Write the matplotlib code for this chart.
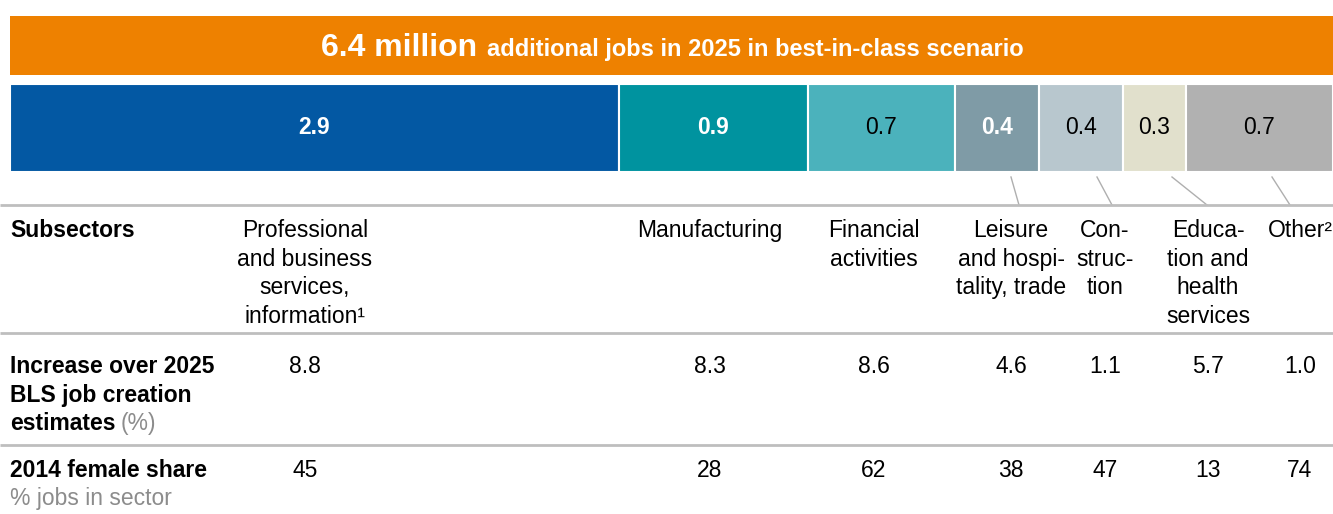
import matplotlib.pyplot as plt
from matplotlib.patches import Rectangle

plt.rcParams['font.family'] = ['Liberation Sans', 'DejaVu Sans']

W, H = 1333, 514

# additional jobs by sector, millions
sectors = ['Professional\nand business\nservices,\ninformation\u00b9', 'Manufacturing',
           'Financial\nactivities', 'Leisure\nand hospi-\ntality, trade', 'Con-\nstruc-\ntion',
           'Educa-\ntion and\nhealth\nservices', 'Other\u00b2']
jobs = [2.9, 0.9, 0.7, 0.4, 0.4, 0.3, 0.7]
total_label = '6.4 million'
increase = ['8.8', '8.3', '8.6', '4.6', '1.1', '5.7', '1.0']
female = ['45', '28', '62', '38', '47', '13', '74']

colors = ['#0358A3', '#00939F', '#4BB2BC', '#7F9BA6', '#B8C7CE', '#E1E0CC', '#B1B1B1']
label_colors = ['white', 'white', 'black', 'white', 'black', 'black', 'black']
label_weights = ['bold', 'bold', 'normal', 'bold', 'normal', 'normal', 'normal']

col_x = [305, 710, 874, 1011, 1105, 1208, 1300]

fs = 16.5
step = 28.7
grey = '#8C8C8C'

fig = plt.figure(figsize=(W / 100, H / 100), dpi=100)
renderer = fig.canvas.get_renderer()

# overlay in pixel coordinates for banner and table
ax0 = fig.add_axes([0, 0, 1, 1])
ax0.set_xlim(0, W)
ax0.set_ylim(H, 0)
ax0.axis('off')


def lines(x, y0, s, **kw):
    for i, ln in enumerate(s.split('\n')):
        t = ax0.text(x, y0 + i * step, ln, fontsize=kw.pop('fontsize', fs), va='baseline', **kw)
    return t


def right_of(t):
    bb = t.get_window_extent(renderer).transformed(ax0.transData.inverted())
    return max(bb.x0, bb.x1)


# banner
ax0.add_patch(Rectangle((10, 16), W - 10, 59, color='#EE8100', lw=0))
t1 = ax0.text(0, 56, total_label, color='white', fontsize=23, fontweight='bold',
              ha='left', va='baseline')
t2 = ax0.text(0, 56, 'additional jobs in 2025 in best-in-class scenario', color='white',
              fontsize=17, fontweight='bold', ha='left', va='baseline')
w1 = right_of(t1)
w2 = right_of(t2)
gap = 10
x_start = 672 - (w1 + gap + w2) / 2
t1.set_x(x_start)
t2.set_x(x_start + w1 + gap)

# stacked bar
ax = fig.add_axes([10 / W, 1 - 172 / H, (W - 10) / W, 88 / H])
left = 0
for v, c, tc, tw in zip(jobs, colors, label_colors, label_weights):
    ax.barh(0, v, left=left, color=c, height=1, edgecolor='white', linewidth=1.5)
    ax.text(left + v / 2, 0, f'{v:.1f}', color=tc, fontweight=tw, fontsize=fs,
            ha='center', va='center')
    left += v
ax.set_xlim(0, sum(jobs))
ax.set_ylim(-0.5, 0.5)
ax.axis('off')

# leader lines from small segments to their columns
leaders = [(1011, 1019), (1097, 1112), (1172, 1207), (1272, 1290)]
for x0, x1 in leaders:
    ax0.plot([x0, x1], [177, 205], color='#AFAFAF', lw=1)

for y in [205, 333, 445]:
    ax0.plot([0, W], [y, y], color='#BEBEBE', lw=2, solid_capstyle='butt')

# row labels
lines(10, 237, 'Subsectors', fontweight='bold', ha='left')
est = lines(10, 373, 'Increase over 2025\nBLS job creation\nestimates', fontweight='bold', ha='left')
ax0.text(right_of(est) + 5, 373 + 2 * step, '(%)', color=grey, fontsize=fs,
         va='baseline', ha='left')
lines(10, 477, '2014 female share', fontweight='bold', ha='left')
lines(10, 505, '% jobs in sector', color=grey, ha='left')

for x, s, inc, fem in zip(col_x, sectors, increase, female):
    lines(x, 237, s, ha='center')
    lines(x, 373, inc, ha='center')
    lines(x, 477, fem, ha='center')

fig.savefig('out.png', dpi=100)
